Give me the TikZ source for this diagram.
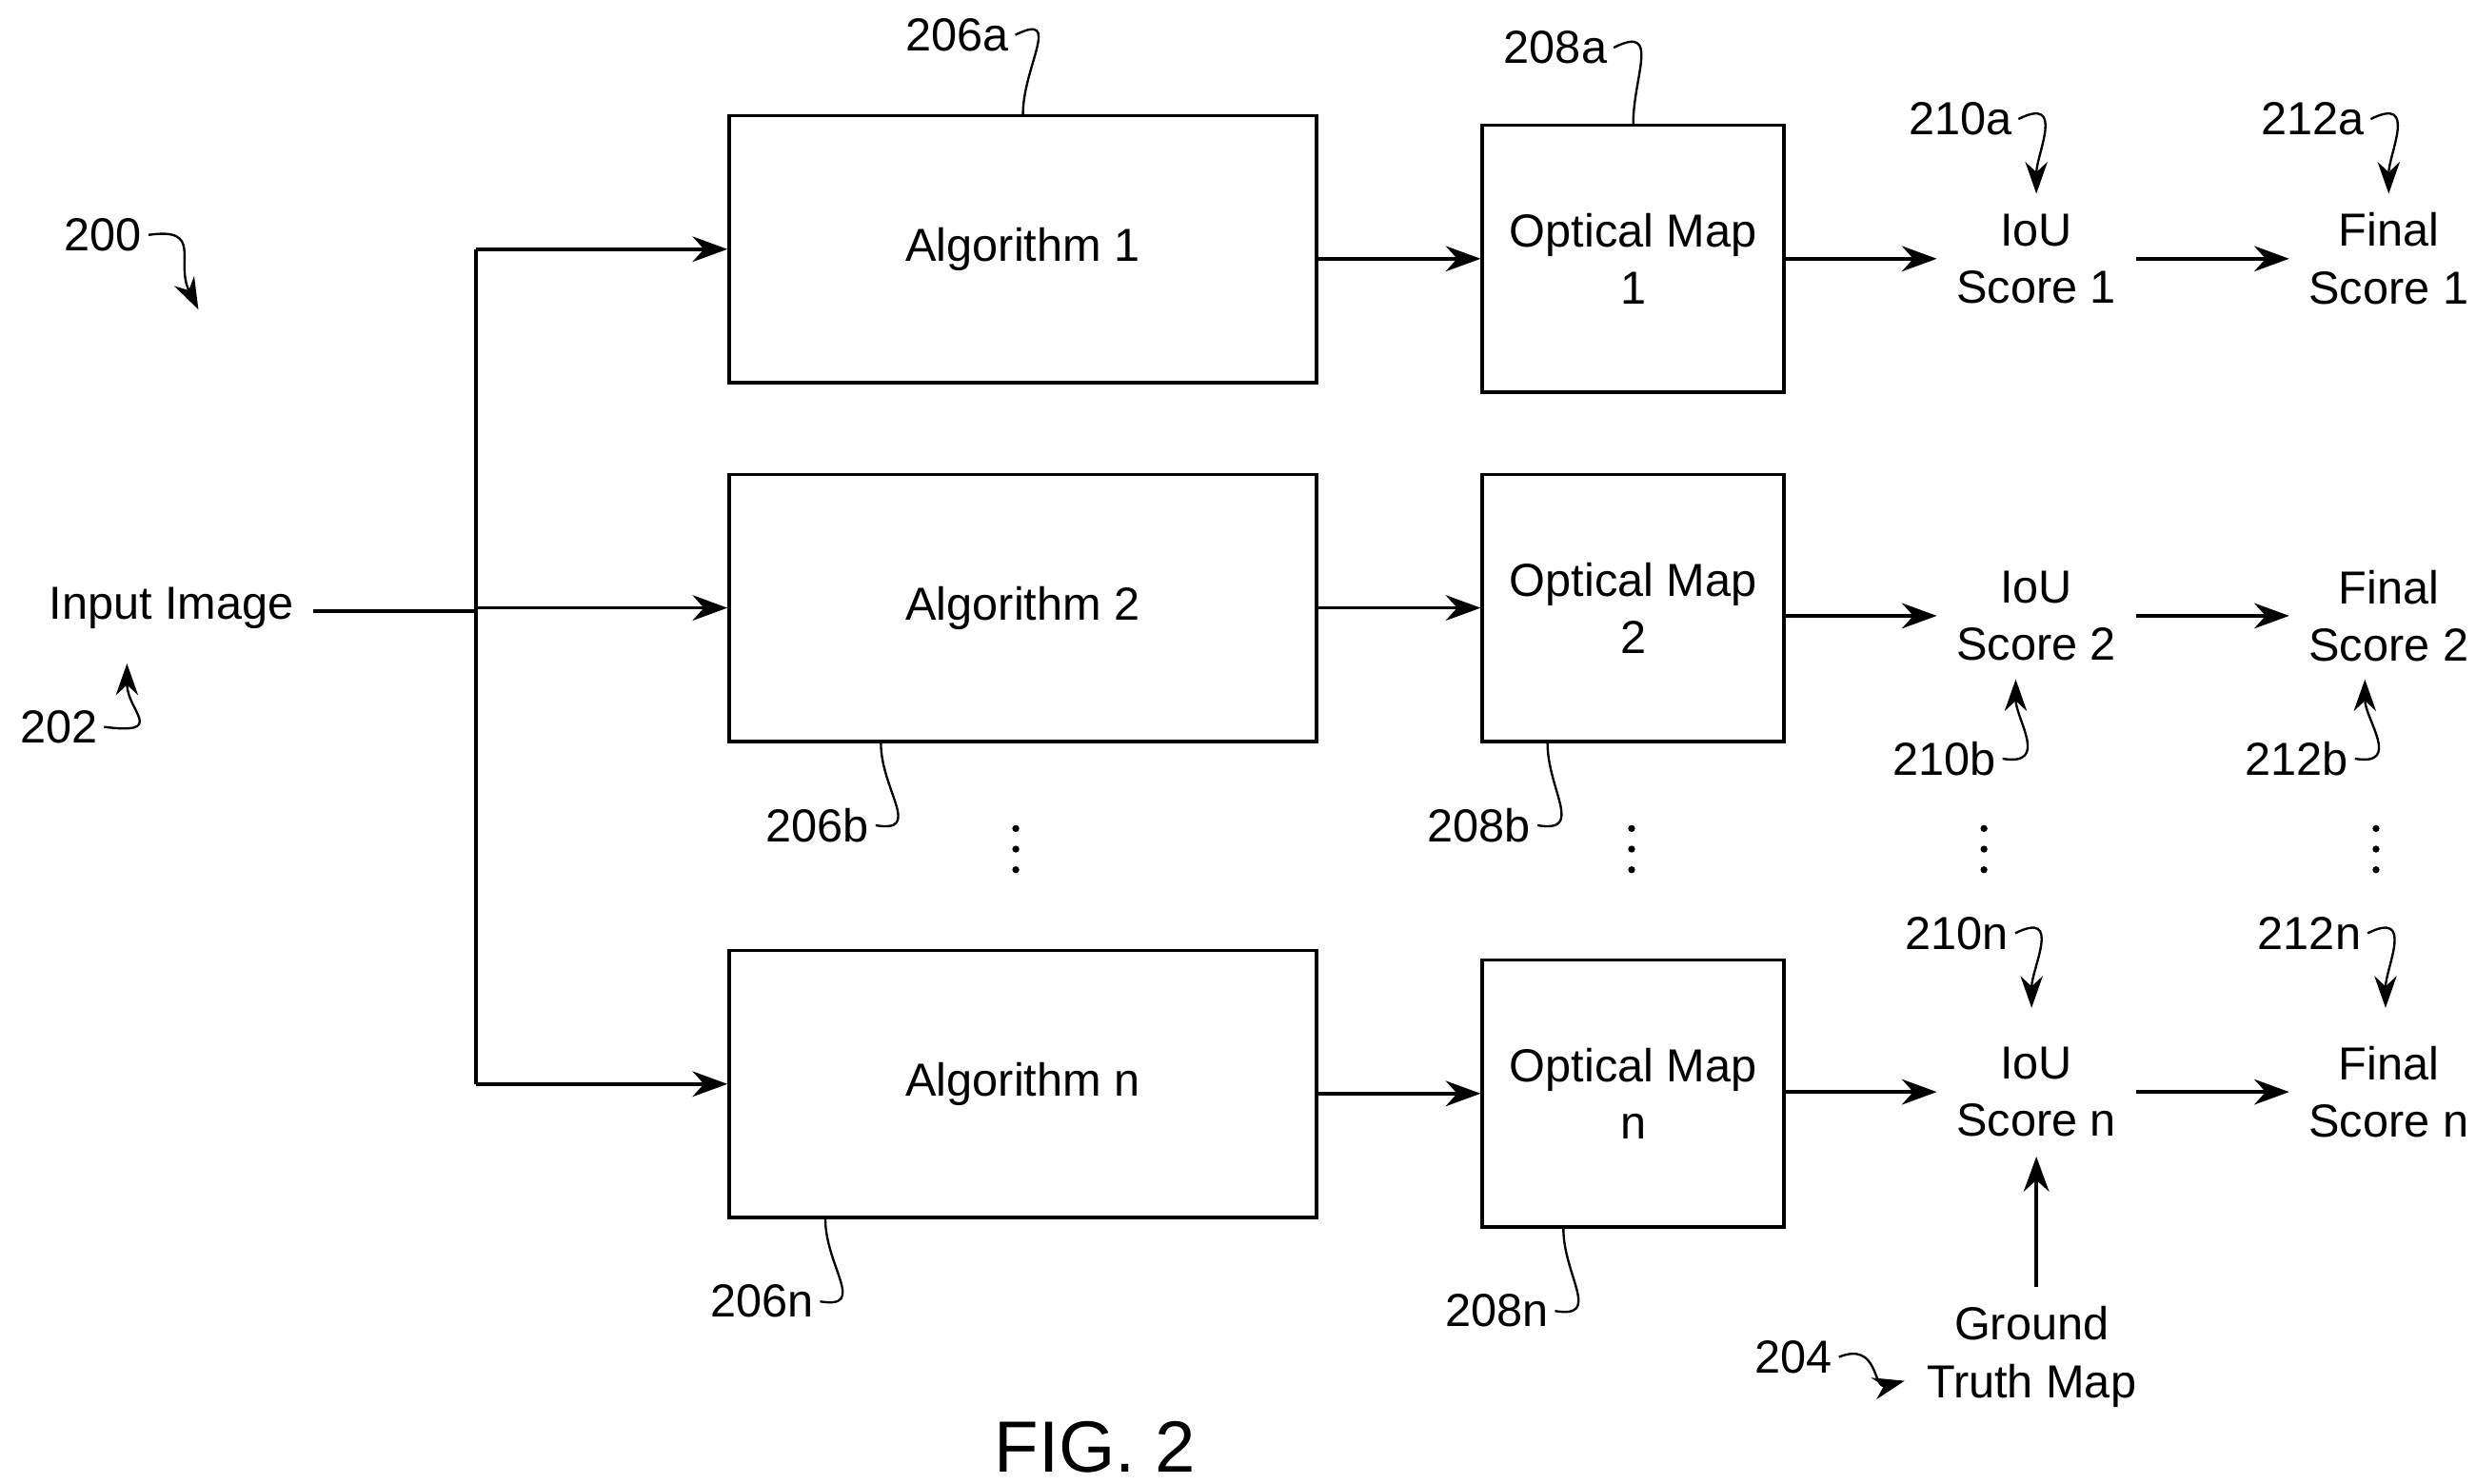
\documentclass[tikz,border=0pt]{standalone}
\usepackage{fontspec}
\setmainfont{Liberation Sans}
\usetikzlibrary{arrows.meta}
\tikzset{
  blk/.style={draw,semithick,minimum width=3.7cm,minimum height=1.68cm},
  omap/.style={draw,semithick,minimum width=1.9cm,minimum height=1.68cm,align=center},
  txt/.style={align=center,font=\fontsize{8.3}{10.3}\selectfont},
  lbl/.style={font=\fontsize{8.3}{10}\selectfont,inner sep=1pt},
  flow/.style={semithick,-{Stealth[length=2.2mm,width=1.6mm]}},
  lead/.style={thin},
  leada/.style={thin,-{Stealth[length=2mm,width=1.4mm]}}
}
\begin{document}
\begin{tikzpicture}[x=0.01cm,y=-0.01cm,every node/.style={txt}]
\useasboundingbox (0,0) rectangle (1560,935);
% input
\node (in) at (108,383) {Input Image};
\coordinate (split) at (300,385);
% rows
\foreach \r/\ya/\yo/\ym in {1/157/163/163,2/383/383/388,n/683/689/688}{
  \node[blk] (alg\r) at (644.5,\ya) {Algorithm \r};
  \node[omap] (om\r) at (1029,\yo) {Optical Map\\\r};
  \node (iou\r) at (1283,\ym) {IoU\\Score \r};
  \node (fin\r) at (1505,\ym) {Final\\Score \r};
  \draw[flow] (split |- alg\r) -- (alg\r.west);
  \draw[flow] (alg\r.east |- om\r) -- (om\r.west);
  \draw[flow] (om\r.east |- iou\r) -- (iou\r.west);
  \draw[flow] (iou\r.east) -- (fin\r.west);
}
\draw[semithick] (in.east |- split) -- (split);
\draw[semithick] (split |- alg1) -- (split |- algn);
% ground truth
\node (gt) at (1280,855) {Ground\\Truth Map};
\draw[flow] (ioun.south |- gt.north) -- (ioun.south);
% dots
\foreach \x in {640,1028,1250,1497}{
  \foreach \d in {522,535,548} \fill (\x,\d) circle (2.2);
}
\node[font=\fontsize{13}{15}\selectfont] (fig) at (690,912) {FIG. 2};
% reference labels
\node[lbl] (l200) at (65,148) {200};
\draw[leada] (l200.east) .. controls +(35,-5) and +(-15,-30) .. (125,195);
\node[lbl] (l202) at (37,458) {202};
\draw[leada] (l202.east) .. controls +(40,5) and +(0,30) .. (80,418);
\node[lbl] (l206a) at (603,22) {206a};
\draw[lead] (l206a.east) .. controls +(30,-15) and +(0,-30) .. (alg1.north);
\node[lbl] (l208a) at (980,30) {208a};
\draw[lead] (l208a.east) .. controls +(30,-15) and +(0,-30) .. (om1.north);
\node[lbl] (l210a) at (1235,75) {210a};
\draw[leada] (l210a.east) .. controls +(30,-15) and +(0,-25) .. (1283,122);
\node[lbl] (l212a) at (1457,75) {212a};
\draw[leada] (l212a.east) .. controls +(30,-15) and +(0,-25) .. (1505,122);
\node[lbl] (l206b) at (515,520) {206b};
\draw[lead] (l206b.east) .. controls +(30,5) and +(0,30) .. (555,468);
\node[lbl] (l208b) at (932,520) {208b};
\draw[lead] (l208b.east) .. controls +(30,5) and +(0,30) .. (975,468);
\node[lbl] (l210b) at (1225,478) {210b};
\draw[leada] (l210b.east) .. controls +(30,5) and +(0,25) .. (1270,428);
\node[lbl] (l212b) at (1447,478) {212b};
\draw[leada] (l212b.east) .. controls +(30,5) and +(0,25) .. (1490,428);
\node[lbl] (l206n) at (480,820) {206n};
\draw[lead] (l206n.east) .. controls +(30,5) and +(0,30) .. (520,768);
\node[lbl] (l208n) at (943,826) {208n};
\draw[lead] (l208n.east) .. controls +(30,5) and +(0,30) .. (985,774);
\node[lbl] (l210n) at (1233,588) {210n};
\draw[leada] (l210n.east) .. controls +(30,-15) and +(0,-25) .. (1280,635);
\node[lbl] (l212n) at (1455,588) {212n};
\draw[leada] (l212n.east) .. controls +(30,-15) and +(0,-25) .. (1503,635);
\node[lbl] (l204) at (1130,855) {204};
\draw[leada] (l204.east) .. controls +(25,-10) and +(-20,5) .. (1200,870);
\end{tikzpicture}
\end{document}
